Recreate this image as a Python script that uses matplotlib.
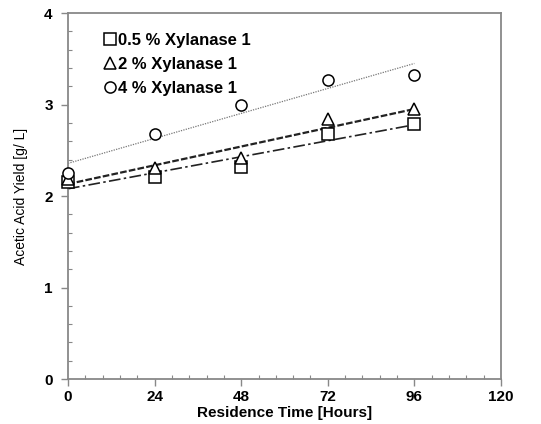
import matplotlib
matplotlib.use("Agg")
import matplotlib.pyplot as plt
from matplotlib.ticker import MultipleLocator
import numpy as np

# Residence time [hours] and acetic acid yield [g/L]
hours = [0, 24, 48, 72, 96]
yield_05 = [2.15, 2.21, 2.32, 2.68, 2.79]
yield_2 = [2.19, 2.31, 2.42, 2.84, 2.95]
yield_4 = [2.25, 2.68, 3.00, 3.27, 3.32]

labels = ["0.5 % Xylanase 1", "2 % Xylanase 1", "4 % Xylanase 1"]
markers = ["s", "^", "o"]
fit_styles = [(0, (7, 2, 1.5, 2)), (0, (3, 1)), (0, (1, 1))]
fit_widths = [1.2, 1.6, 0.9]
fit_colors = ["#222222", "#222222", "#777777"]

plt.rcParams["font.family"] = ["Liberation Sans", "DejaVu Sans"]

fig = plt.figure(figsize=(5.41, 4.24), dpi=100)
ax = fig.add_axes([0.1257, 0.106, 0.8003, 0.863])

x = np.array(hours)
for ys, lab, m, ls, lw, c in zip([yield_05, yield_2, yield_4], labels, markers,
                                 fit_styles, fit_widths, fit_colors):
    ax.plot(hours, ys, linestyle="none", marker=m, markersize=8,
            markerfacecolor="white", markeredgecolor="black",
            markeredgewidth=1.1, label=lab, clip_on=False, zorder=3)
    slope, icpt = np.polyfit(x, ys, 1)
    ax.plot([x[0], x[-1]], [icpt, icpt + slope * x[-1]], linestyle=ls,
            linewidth=lw, color=c, zorder=2)

ax.set_xlim(0, 120)
ax.set_ylim(0, 4)
ax.xaxis.set_major_locator(MultipleLocator(24))
ax.xaxis.set_minor_locator(MultipleLocator(4.8))
ax.yaxis.set_major_locator(MultipleLocator(1))
ax.yaxis.set_minor_locator(MultipleLocator(0.2))
ax.tick_params(which="major", direction="out", length=5, width=1, color="#888888",
               labelsize=11, pad=3)
ax.tick_params(axis="y", which="major", pad=6)
ax.tick_params(which="minor", direction="in", length=3, width=0.8, color="#888888")
for lbl in ax.get_xticklabels() + ax.get_yticklabels():
    lbl.set_fontweight("bold")
for sp in ax.spines.values():
    sp.set_color("#888888")
    sp.set_linewidth(1.3)

ax.set_xlabel("Residence Time [Hours]", fontsize=11, fontweight="bold", labelpad=1)
ax.set_ylabel("Acetic Acid Yield [g/ L]", fontsize=10, labelpad=12)

leg = ax.legend(loc="upper left", frameon=False, handlelength=0.6,
                handletextpad=0.2, labelspacing=0.55, borderaxespad=0.3,
                prop={"size": 12, "weight": "bold"}, bbox_to_anchor=(0.058, 0.978))

fig.savefig("out.png", dpi=100)
